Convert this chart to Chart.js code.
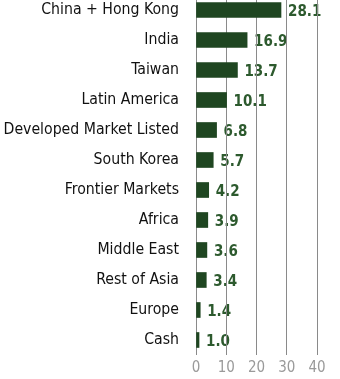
<!DOCTYPE html>
<html>
<head>
<meta charset="utf-8">
<script src="https://cdn.jsdelivr.net/npm/chart.js@4/dist/chart.umd.min.js"></script>
<style>
  html, body { margin: 0; padding: 0; background: #fff; overflow: hidden; }
  #wrap { position: relative; width: 340px; height: 384px; margin-top: -5px; }
</style>
</head>
<body>
<div id="wrap"><canvas id="c" width="340" height="384"></canvas></div>
<script>
// Regional allocation (%)
const regions = [
  'China + Hong Kong', 'India', 'Taiwan', 'Latin America',
  'Developed Market Listed', 'South Korea', 'Frontier Markets', 'Africa',
  'Middle East', 'Rest of Asia', 'Europe', 'Cash'
];
const weights = [28.1, 16.9, 13.7, 10.1, 6.8, 5.7, 4.2, 3.9, 3.6, 3.4, 1.4, 1.0];
const xTicks = [0, 10, 20, 30, 40];

const FONT = "'DejaVu Sans Condensed', 'DejaVu Sans', sans-serif";
const NUM_FONT = "'Liberation Sans Narrow', 'DejaVu Sans Condensed', sans-serif";

// Writes each bar's value just past its end, underneath the grid lines
const valueLabels = {
  id: 'valueLabels',
  beforeDraw(chart) {
    const ctx = chart.ctx;
    const meta = chart.getDatasetMeta(0);
    ctx.save();
    ctx.fillStyle = '#2d5a2e';
    ctx.font = "bold 15px " + NUM_FONT;
    ctx.textAlign = 'left';
    ctx.textBaseline = 'middle';
    meta.data.forEach((bar, i) => {
      ctx.fillText(weights[i].toFixed(1), bar.x + 7, bar.y + 2.5);
    });
    ctx.restore();
  }
};

new Chart(document.getElementById('c'), {
  type: 'bar',
  data: {
    labels: regions,
    datasets: [{
      data: weights,
      backgroundColor: '#1f4621',
      borderWidth: 0,
      barThickness: 15
    }]
  },
  options: {
    indexAxis: 'y',
    responsive: false,
    animation: false,
    layout: { padding: { left: 0, right: 23, top: 0, bottom: 0 } },
    plugins: { legend: { display: false }, tooltip: { enabled: false } },
    scales: {
      x: {
        min: 0, max: 40,
        afterBuildTicks(scale) { scale.ticks = xTicks.map(v => ({ value: v })); },
        afterFit(scale) { scale.height = 24; },
        border: { display: false },
        grid: { color: '#8a8a8a', lineWidth: 1, drawTicks: false },
        ticks: { color: '#9a9a9a', padding: 4, font: { family: FONT, size: 15 } }
      },
      y: {
        afterFit(scale) {
          scale.width = 196;
          scale.paddingTop = 0;
          scale.paddingBottom = 0;
        },
        border: { display: false },
        grid: { display: false, drawTicks: false },
        ticks: { color: '#111', padding: 17, font: { family: FONT, size: 15.7 } }
      }
    }
  },
  plugins: [valueLabels]
});
</script>
</body>
</html>
